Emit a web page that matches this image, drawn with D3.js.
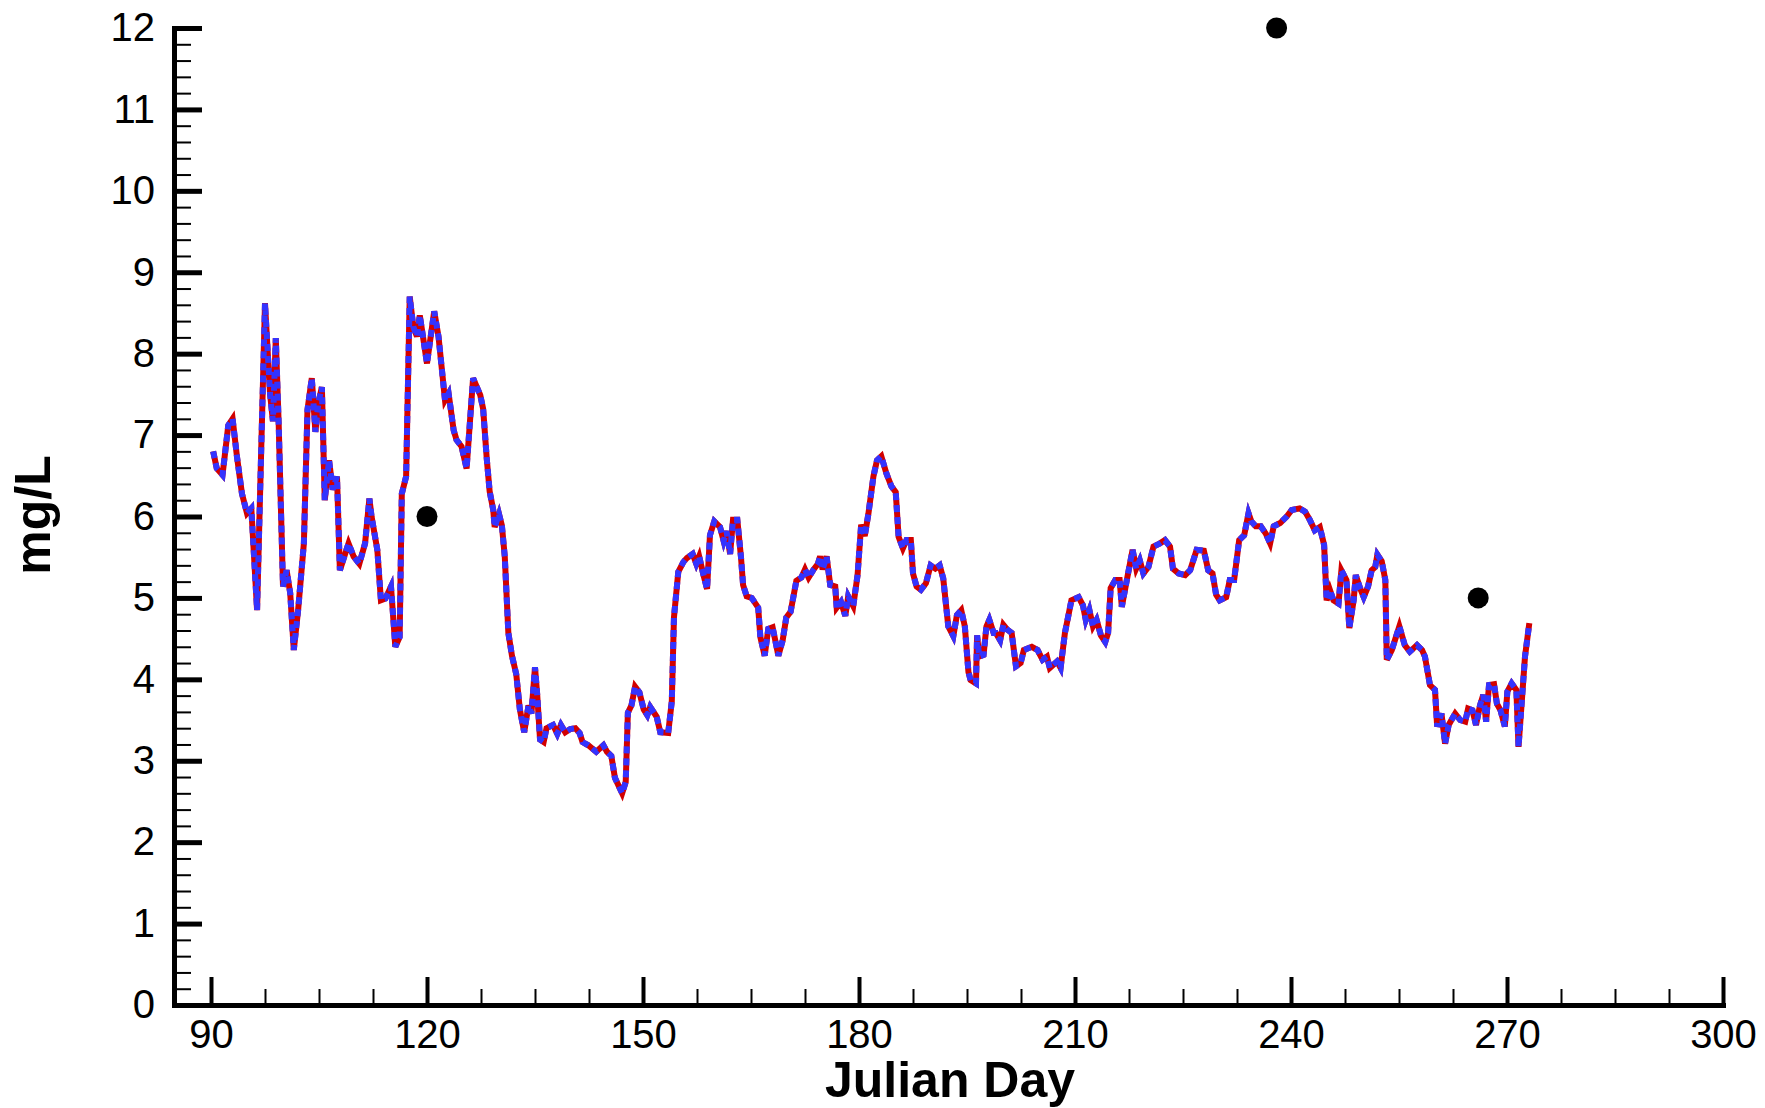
<!DOCTYPE html>
<html>
<head>
<meta charset="utf-8">
<script src="https://cdn.jsdelivr.net/npm/d3@7"></script>
<style>
  html, body { margin: 0; padding: 0; background: #fff; }
  svg { display: block; }
</style>
</head>
<body>
<svg id="chart" width="1765" height="1108"></svg>
<script>
// ---- Data ----
const days = [
  90.3, 90.8, 91.6, 92.4, 93.0, 93.6, 94.3, 95.0, 95.6, 96.4, 97.5, 98.2, 98.6, 99.0, 99.4,
  100.0, 100.5, 101.0, 101.5, 102.1, 102.9, 103.4, 104.0, 104.5, 104.9, 105.4, 105.8, 106.4, 106.9, 107.5,
  107.9, 109.1, 109.8, 110.6, 111.4, 112.0, 112.3, 113.1, 113.6, 114.2, 115.0, 115.6, 116.2, 116.5, 117.1,
  117.6, 118.1, 118.6, 119.0, 120.0, 121.0, 121.6, 122.5, 123.0, 123.7, 124.1, 124.8, 125.5, 126.4, 127.4,
  127.8, 128.3, 128.7, 129.2, 129.4, 130.0, 130.4, 130.8, 131.3, 131.8, 132.4, 132.9, 133.5, 134.1, 134.5,
  135.0, 135.3, 135.7, 136.2, 136.6, 137.5, 138.1, 138.6, 139.2, 139.9, 140.6, 141.2, 141.6, 142.4, 143.5,
  144.5, 145.0, 145.6, 146.1, 147.1, 147.6, 147.9, 148.4, 148.9, 149.5, 150.1, 150.6, 151.0, 151.9, 152.4,
  153.5, 154.0, 154.3, 154.9, 155.6, 156.1, 156.9, 157.4, 157.8, 158.4, 158.9, 159.3, 159.9, 160.7, 161.2,
  161.6, 162.1, 162.5, 163.1, 163.6, 163.9, 164.4, 165.1, 166.0, 166.3, 166.9, 167.4, 168.0, 168.8, 169.4,
  169.9, 170.5, 171.3, 172.0, 172.5, 173.0, 173.7, 174.3, 174.6, 174.95, 175.5, 176.0, 176.7, 176.9, 177.5,
  178.1, 178.5, 179.2, 179.8, 180.3, 180.8, 181.3, 182.0, 182.5, 183.1, 183.8, 184.5, 185.1, 185.5, 186.1,
  186.6, 187.2, 187.5, 188.0, 188.6, 189.3, 189.95, 190.6, 191.2, 191.7, 192.4, 193.1, 193.6, 194.2, 194.7,
  195.2, 195.5, 196.25, 196.4, 196.7, 197.3, 197.7, 198.1, 198.7, 199.0, 199.6, 200.05, 200.6, 201.2, 201.8,
  202.45, 202.9, 204.0, 204.8, 205.5, 206.1, 206.5, 207.5, 208.0, 208.6, 209.5, 210.5, 211.1, 211.5, 212.0,
  212.5, 213.0, 213.6, 214.2, 214.6, 214.95, 215.6, 216.2, 216.5, 217.2, 217.5, 218.0, 218.5, 219.0, 219.5,
  220.2, 220.9, 221.8, 222.5, 223.2, 223.6, 224.4, 225.3, 226.0, 226.9, 227.9, 228.5, 229.1, 229.6, 230.1,
  231.0, 231.5, 232.1, 232.8, 233.5, 234.1, 234.5, 235.1, 235.8, 236.5, 237.1, 237.6, 238.5, 239.4, 240.1,
  241.2, 241.95, 242.6, 243.3, 244.0, 244.6, 244.95, 245.4, 245.9, 246.6, 247.0, 247.7, 248.1, 248.7, 249.0,
  249.6, 250.1, 250.7, 251.2, 251.7, 252.0, 252.6, 253.1, 253.3, 254.0, 255.05, 255.8, 256.5, 257.5, 258.2,
  258.6, 259.3, 260.0, 260.3, 260.9, 261.4, 261.9, 262.8, 263.5, 264.2, 264.6, 265.2, 265.7, 266.25, 266.7,
  267.1, 267.5, 268.2, 268.6, 269.1, 269.7, 270.05, 270.65, 271.3, 271.6, 272.2, 272.5, 273.1
];
const values = [
  6.80, 6.59, 6.51, 7.12, 7.20, 6.74, 6.28, 6.04, 6.10, 4.85, 8.62, 7.51, 7.17, 8.19, 7.14,
  5.14, 5.34, 5.06, 4.36, 4.85, 5.67, 7.31, 7.70, 7.04, 7.39, 7.59, 6.20, 6.69, 6.33, 6.49,
  5.34, 5.67, 5.51, 5.42, 5.67, 6.22, 6.00, 5.59, 4.97, 4.99, 5.14, 4.40, 4.52, 6.28, 6.49,
  8.70, 8.33, 8.21, 8.47, 7.88, 8.52, 8.21, 7.43, 7.51, 7.06, 6.94, 6.86, 6.59, 7.70, 7.49,
  7.32, 6.71, 6.31, 6.08, 5.87, 6.03, 5.89, 5.51, 4.57, 4.29, 4.06, 3.63, 3.35, 3.68, 3.58,
  4.15, 3.82, 3.26, 3.23, 3.40, 3.44, 3.33, 3.44, 3.35, 3.39, 3.40, 3.34, 3.23, 3.19, 3.11,
  3.19, 3.11, 3.06, 2.79, 2.60, 2.74, 3.59, 3.68, 3.91, 3.84, 3.63, 3.56, 3.66, 3.54, 3.35,
  3.34, 3.73, 4.76, 5.32, 5.44, 5.49, 5.54, 5.42, 5.51, 5.28, 5.11, 5.77, 5.94, 5.87, 5.70,
  5.82, 5.54, 5.96, 5.96, 5.51, 5.16, 5.02, 5.00, 4.88, 4.52, 4.29, 4.62, 4.64, 4.29, 4.48,
  4.76, 4.83, 5.21, 5.25, 5.35, 5.25, 5.35, 5.42, 5.51, 5.35, 5.51, 5.16, 5.14, 4.88, 4.95,
  4.78, 5.02, 4.90, 5.28, 5.90, 5.76, 6.03, 6.49, 6.69, 6.74, 6.53, 6.37, 6.30, 5.75, 5.61,
  5.71, 5.71, 5.30, 5.14, 5.10, 5.18, 5.40, 5.36, 5.40, 5.24, 4.65, 4.53, 4.79, 4.85, 4.65,
  4.09, 3.99, 3.95, 4.54, 4.28, 4.30, 4.65, 4.73, 4.57, 4.57, 4.48, 4.67, 4.61, 4.57, 4.16,
  4.20, 4.36, 4.40, 4.36, 4.24, 4.28, 4.14, 4.22, 4.14, 4.57, 4.97, 5.01, 4.91, 4.73, 4.85,
  4.65, 4.73, 4.54, 4.46, 4.57, 5.12, 5.22, 5.22, 4.89, 5.22, 5.36, 5.59, 5.36, 5.46, 5.30,
  5.38, 5.63, 5.67, 5.71, 5.63, 5.36, 5.30, 5.28, 5.34, 5.59, 5.58, 5.34, 5.30, 5.04, 4.97,
  5.01, 5.22, 5.22, 5.71, 5.77, 6.04, 5.94, 5.88, 5.88, 5.79, 5.67, 5.88, 5.92, 6.00, 6.08,
  6.10, 6.06, 5.96, 5.83, 5.87, 5.65, 4.97, 5.10, 4.97, 4.93, 5.34, 5.22, 4.63, 4.97, 5.28,
  5.12, 5.01, 5.14, 5.34, 5.38, 5.53, 5.45, 5.22, 4.24, 4.36, 4.65, 4.42, 4.34, 4.42, 4.36,
  4.28, 3.93, 3.87, 3.42, 3.58, 3.21, 3.44, 3.58, 3.50, 3.48, 3.64, 3.62, 3.44, 3.68, 3.81,
  3.48, 3.93, 3.94, 3.70, 3.62, 3.42, 3.85, 3.95, 3.87, 3.17, 3.91, 4.28, 4.69
];
const obsDays = [120, 238, 266];
const obsValues = [6, 12, 5];
const xTickValues = [90, 120, 150, 180, 210, 240, 270, 300];
const xMinorValues = d3.range(90, 300.01, 7.5).filter(v => !xTickValues.includes(v));
const yTickValues = [0, 1, 2, 3, 4, 5, 6, 7, 8, 9, 10, 11, 12];
const yMinorValues = d3.range(0, 12.001, 0.2).map(v => +v.toFixed(1)).filter(v => Math.abs(v - Math.round(v)) > 0.01);

// ---- Scales ----
const x = d3.scaleLinear().domain([85, 300]).range([175, 1723]);
const y = d3.scaleLinear().domain([0, 12]).range([1005, 28]);

const svg = d3.select('#chart');
const FONT = '"Liberation Sans", Arial, Helvetica, sans-serif';

// ---- Axes ----
const xAxisG = svg.append('g').attr('transform', `translate(0,${y(0)})`);
xAxisG.call(d3.axisBottom(x).tickValues(xMinorValues).tickSize(-16).tickSizeOuter(0).tickFormat(''))
  .call(g => g.select('.domain').remove())
  .call(g => g.selectAll('.tick line').attr('stroke', '#000').attr('stroke-width', 2));
const xMajorG = svg.append('g').attr('transform', `translate(0,${y(0)})`);
xMajorG.call(d3.axisBottom(x).tickValues(xTickValues).tickSize(-28).tickSizeOuter(0).tickPadding(15))
  .call(g => g.select('.domain').attr('stroke', '#000').attr('stroke-width', 5).attr('stroke-linecap', 'square'))
  .call(g => g.selectAll('.tick line').attr('stroke', '#000').attr('stroke-width', 4))
  .call(g => g.selectAll('.tick text').attr('font-family', FONT).attr('font-size', 40).attr('fill', '#000'));

const yAxisG = svg.append('g').attr('transform', `translate(${x(85) - 1},0)`);
yAxisG.call(d3.axisLeft(y).tickValues(yMinorValues).tickSize(-17).tickSizeOuter(0).tickFormat(''))
  .call(g => g.select('.domain').remove())
  .call(g => g.selectAll('.tick line').attr('stroke', '#000').attr('stroke-width', 2));
const yMajorG = svg.append('g').attr('transform', `translate(${x(85) - 1},0)`);
yMajorG.call(d3.axisLeft(y).tickValues(yTickValues).tickSize(-28).tickSizeOuter(0).tickPadding(19))
  .call(g => g.select('.domain').attr('stroke', '#000').attr('stroke-width', 5).attr('stroke-linecap', 'square'))
  .call(g => g.selectAll('.tick line').attr('stroke', '#000').attr('stroke-width', 5))
  .call(g => g.selectAll('.tick text').attr('font-family', FONT).attr('font-size', 40).attr('fill', '#000'));

// ---- Axis titles ----
svg.append('text')
  .attr('x', 950).attr('y', 1097)
  .attr('text-anchor', 'middle')
  .attr('font-family', FONT).attr('font-weight', 'bold').attr('font-size', 50)
  .text('Julian Day');
svg.append('text')
  .attr('transform', 'translate(50,515) rotate(-90)')
  .attr('text-anchor', 'middle')
  .attr('font-family', FONT).attr('font-weight', 'bold').attr('font-size', 50)
  .text('mg/L');

// ---- Series line (red solid under blue dashed) ----
const pts = days.map((d, i) => [d, values[i]]);
const line = d3.line().x(d => x(d[0])).y(d => y(d[1]));
svg.append('path').datum(pts)
  .attr('d', line).attr('fill', 'none')
  .attr('stroke', '#d20000').attr('stroke-width', 6)
  .attr('stroke-linejoin', 'miter').attr('stroke-miterlimit', 4);
svg.append('path').datum(pts)
  .attr('d', line).attr('fill', 'none')
  .attr('stroke', '#3333ff').attr('stroke-width', 6)
  .attr('stroke-dasharray', '7,5')
  .attr('stroke-linejoin', 'miter').attr('stroke-miterlimit', 4);

// ---- Observations ----
svg.append('g').selectAll('circle')
  .data(obsDays.map((d, i) => [d, obsValues[i]]))
  .join('circle')
  .attr('cx', d => x(d[0])).attr('cy', d => y(d[1]))
  .attr('r', 10.5).attr('fill', '#000');
</script>
</body>
</html>
